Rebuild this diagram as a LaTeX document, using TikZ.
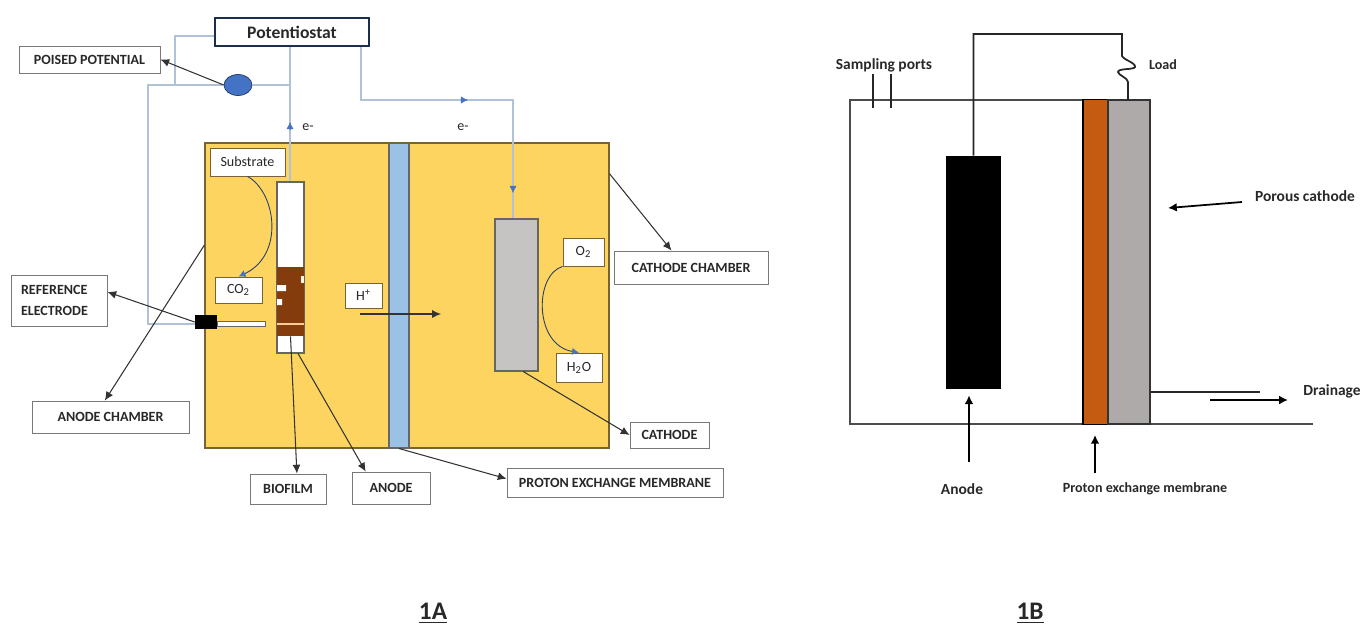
\documentclass[tikz,border=0pt]{standalone}
\usepackage{fontspec}
\setmainfont{Carlito}
\usetikzlibrary{arrows.meta,shapes.geometric}
\definecolor{chamberyellow}{RGB}{254,212,96}
\definecolor{chamberedge}{RGB}{120,100,50}
\definecolor{membraneblue}{RGB}{155,194,228}
\definecolor{wireblue}{RGB}{176,194,216}
\definecolor{tipblue}{RGB}{68,114,196}
\definecolor{biofilmbrown}{RGB}{132,60,12}
\definecolor{pemorange}{RGB}{197,90,17}
\definecolor{cathodegrey}{RGB}{174,170,170}
\definecolor{labeledge}{RGB}{120,120,120}
\definecolor{texdark}{RGB}{40,40,40}
\tikzset{
  labelbox/.style={draw=labeledge,line width=0.5pt,fill=white,inner sep=0pt,font=\bfseries\footnotesize,text=texdark},
  gasbox/.style={draw=chamberedge,line width=0.5pt,fill=white,inner sep=0pt,font=\footnotesize,text=texdark},
  plaintext/.style={inner sep=0pt,font=\bfseries\footnotesize,text=texdark},
  widetext/.style={inner sep=0pt,font=\bfseries\fontsize{8.8}{10}\selectfont,text=texdark},
  wire/.style={wireblue,line width=0.6pt},
  pointer/.style={black!80,line width=0.6pt,-{Latex[length=5pt,width=4.5pt]}},
  bluecurve/.style={black!45!tipblue,line width=0.5pt,-{Latex[length=4pt,width=4pt,color=tipblue]}},
  cellline/.style={black!85,line width=1pt},
  thickarrow/.style={black,line width=1pt,-{Latex[length=5pt,width=5pt]}},
  wiretipline/.style={tipblue,line width=0.3pt,-{Latex[length=4pt,width=4pt]}},
}
\newcommand{\wiretip}[4]{%
  \draw[wiretipline] (#1,#2) -- ++(#3,#4);
}
\begin{document}
\begin{tikzpicture}[x=0.02cm,y=-0.02cm]
  \useasboundingbox (0,0) rectangle (1362,626);
  % panel 1A, wires first
  \node[draw=chamberedge,fill=chamberyellow,line width=0.7pt,minimum width=8.08cm,minimum height=6.1cm,inner sep=0pt] (chamber) at (407,295.5) {};
  \node[draw=black!60,fill=membraneblue,line width=0.6pt,minimum width=0.4cm,minimum height=6.1cm,inner sep=0pt] (membrane) at (399,295.5) {};
  \node[labelbox,draw=black!60!tipblue,line width=0.7pt,minimum width=3.08cm,minimum height=0.56cm,font=\bfseries\normalsize] (potentiostat) at (292,32) {Potentiostat};
  \node[labelbox,minimum width=2.82cm,minimum height=0.54cm] (poised) at (89.5,59.5) {POISED POTENTIAL};
  \node[draw=black!50!tipblue,fill=tipblue,ellipse,minimum width=0.56cm,minimum height=0.42cm,inner sep=0pt] (meter) at (238,85) {};
  \node[draw=black!60,fill=white,line width=0.6pt,minimum width=0.54cm,minimum height=3.42cm,inner sep=0pt] (anode) at (290.5,267.5) {};
  \node[fill=biofilmbrown,minimum width=0.54cm,minimum height=1.38cm,inner sep=0pt] (biofilm) at (290.5,301.5) {};
  \fill[white] (277,285) rectangle (286,291) (277,299) rectangle (282,305);
  \fill[white!80!chamberyellow] (301,276) rectangle (304,283);
  \fill[orange!40!white] (277,323) rectangle (304,325);
  \node[draw=black!60,fill=cathodegrey!70!white,line width=0.6pt,minimum width=0.86cm,minimum height=3.04cm,inner sep=0pt] (cathode) at (516.5,295) {};
  \node[gasbox,minimum width=1.5cm,minimum height=0.56cm] (substrate) at (247.5,162) {Substrate};
  \node[gasbox,minimum width=0.94cm,minimum height=0.52cm] (cotwo) at (238.5,290) {CO\textsubscript{2}};
  \node[gasbox,minimum width=0.74cm,minimum height=0.5cm] (hplus) at (363.5,295.5) {H\textsuperscript{+}};
  \node[gasbox,minimum width=0.82cm,minimum height=0.56cm] (otwo) at (583.5,252) {O\textsubscript{2}};
  \node[gasbox,minimum width=0.92cm,minimum height=0.58cm] (water) at (579,367.5) {H\textsubscript{2}O};
  \node[draw=black!60,fill=white,line width=0.5pt,minimum width=0.96cm,minimum height=0.1cm,inner sep=0pt] (rod) at (241,323.5) {};
  \node[fill=black,minimum width=0.44cm,minimum height=0.28cm,inner sep=0pt] (refblock) at (206,322) {};
  \node[labelbox,align=left,inner xsep=0.2cm,text width=1.52cm,minimum height=1.02cm] (reference) at (59,300.5) {REFERENCE\\[2pt]ELECTRODE};
  \node[labelbox,minimum width=3.14cm,minimum height=0.64cm] (anodechamberlabel) at (110.5,417) {ANODE CHAMBER};
  \node[labelbox,minimum width=1.52cm,minimum height=0.6cm] (biofilmlabel) at (288,489) {BIOFILM};
  \node[labelbox,minimum width=1.56cm,minimum height=0.64cm] (anodelabel) at (391,488) {ANODE};
  \node[labelbox,minimum width=4.32cm,minimum height=0.58cm] (pemlabel) at (615,482.5) {PROTON EXCHANGE MEMBRANE};
  \node[labelbox,minimum width=1.58cm,minimum height=0.52cm] (cathodelabel) at (669.5,435) {CATHODE};
  \node[labelbox,minimum width=3.08cm,minimum height=0.66cm] (cathodechamberlabel) at (691,267.5) {CATHODE CHAMBER};
  \node[inner sep=0pt,font=\footnotesize,text=texdark] (eleft) at (308,127) {e-};
  \node[inner sep=0pt,font=\footnotesize,text=texdark] (eright) at (463,127) {e-};
  \coordinate (corner) at (175,36);
  \coordinate (join) at (175,85);
  \coordinate (outer) at (148,85);
  \coordinate (low) at (148,324);
  \coordinate (stem) at (290,85);
  \coordinate (turn) at (361,100);
  \coordinate (drop) at (513,100);
  \coordinate (hstart) at (360,314);
  \coordinate (hend) at (441,314);
  \draw[wire] (potentiostat.west |- corner) -- (corner) -- (join);
  \draw[wire] (refblock.west |- low) -- (low) -- (outer) -- (meter.west);
  \draw[wire] (meter.east) -- (stem);
  \draw[wire] (stem |- potentiostat.south) -- (stem |- anode.north);
  \draw[wire] (turn |- potentiostat.south) -- (turn) -- (drop) -- (drop |- cathode.north);
  \wiretip{290}{129}{0}{-7}
  \wiretip{461}{100}{7}{0}
  \wiretip{513}{186}{0}{7}
  \draw[bluecurve] (substrate.south) .. controls (276,192) and (285,255) .. (cotwo.north);
  \draw[bluecurve] (otwo.south west) .. controls (534,275) and (534,345) .. (water.north);
  \draw[pointer] (meter.west) -- (poised.east);
  \draw[pointer] (refblock.west) -- (reference.10);
  \draw[pointer] (chamber.166) -- (anodechamberlabel.109);
  \draw[pointer] (biofilm.south) -- (biofilmlabel.60);
  \draw[pointer] (anode.-85) -- (anodelabel.147);
  \draw[pointer] (membrane.south) -- (pemlabel.178);
  \draw[pointer] (hstart) -- (hend);
  \draw[pointer] (cathode.-85) -- (cathodelabel.west);
  \draw[pointer] (chamber.31.4) -- (cathodechamberlabel.139);
  % panel 1B
  \coordinate (celltl) at (850,100);
  \coordinate (cellbl) at (850,424);
  \coordinate (cellbr) at (1313,424);
  \coordinate (celltr) at (1085,100);
  \draw[black!70,line width=0.8pt] (celltr) -- (celltl) -- (cellbl) -- (cellbr);
  \node[draw=black,fill=pemorange,line width=0.7pt,minimum width=0.5cm,minimum height=6.5cm,inner sep=0pt] (pemb) at (1095.5,262) {};
  \node[draw=black!80,fill=cathodegrey,line width=1pt,minimum width=0.84cm,minimum height=6.48cm,inner sep=0pt] (porous) at (1129,262) {};
  \node[fill=black,minimum width=1.1cm,minimum height=4.66cm,inner sep=0pt] (anodeb) at (973.5,272.5) {};
  \coordinate (loadtop) at (1122,34);
  \coordinate (loadend) at (1128,100);
  \draw[cellline] (anodeb.north) -- (anodeb.north |- loadtop) -- (loadtop) -- (1122,56)
    .. controls (1124,60) and (1136,63) .. (1135,67) .. controls (1134,70) and (1118,68) .. (1118,72)
    .. controls (1118,75) and (1128,78) .. (1128,82) -- (loadend);
  \foreach \x in {873,891}
    \draw[cellline] (\x,74) -- (\x,108);
  \coordinate (drainend) at (1260,392);
  \draw[cellline] (porous.east |- drainend) -- (drainend);
  \node[widetext] (samplingb) at (884,65) {Sampling ports};
  \node[plaintext] (loadb) at (1163,65) {Load};
  \node[widetext] (porousb) at (1305,196) {Porous cathode};
  \node[widetext] (drainageb) at (1332,391) {Drainage};
  \node[widetext] (anodetextb) at (962,489) {Anode};
  \node[plaintext] (pemtextb) at (1145,489) {Proton exchange membrane};
  \coordinate (porousfrom) at (1242,202);
  \coordinate (poroustip) at (1168,208);
  \coordinate (drainfrom) at (1210,400);
  \coordinate (draintip) at (1288,400);
  \coordinate (anodefrom) at (969,462);
  \coordinate (pemfrom) at (1095,473);
  \draw[thickarrow] (porousfrom) -- (poroustip);
  \draw[thickarrow] (drainfrom) -- (draintip);
  \draw[thickarrow,shorten >=3.4pt] (anodefrom) -- (anodefrom |- anodeb.south);
  \draw[thickarrow,shorten >=5.6pt] (pemfrom) -- (pemfrom |- pemb.south);
  % panel captions
  \node[inner sep=0pt,font=\bfseries\Large,text=texdark] (captiona) at (433,613) {\underline{1A}};
  \node[inner sep=0pt,font=\bfseries\Large,text=texdark] (captionb) at (1030,613) {\underline{1B}};
\end{tikzpicture}
\end{document}
